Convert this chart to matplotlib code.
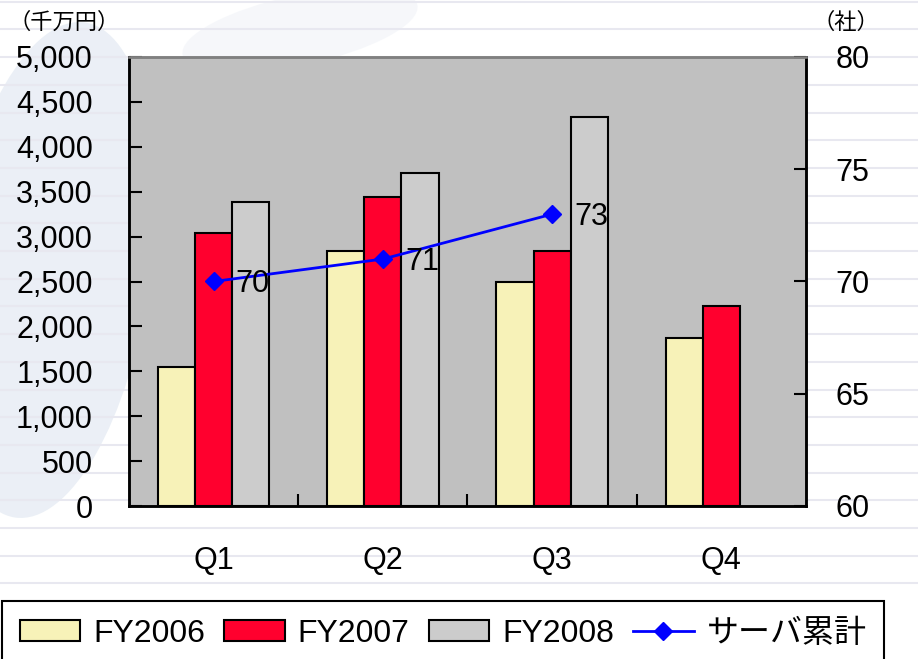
import numpy as np
import matplotlib
matplotlib.use("Agg")
import matplotlib.pyplot as plt
from matplotlib.patches import Patch, Ellipse
from matplotlib.lines import Line2D
from matplotlib.ticker import FuncFormatter, MultipleLocator, FixedLocator

plt.rcParams['font.family'] = ['Liberation Sans', 'Noto Sans CJK JP', 'DejaVu Sans']

quarters = ['Q1', 'Q2', 'Q3', 'Q4']
fy2006 = [1550, 2840, 2500, 1875]
fy2007 = [3035, 3440, 2845, 2230]
fy2008 = [3385, 3710, 4335, np.nan]
servers = [70, 71, 73]
series_names = ['FY2006', 'FY2007', 'FY2008', 'サーバ累計']

c06, c07, c08 = '#F7F2B8', '#FF002E', '#CCCCCC'
blue = '#0000FF'

fig = plt.figure(figsize=(9.18, 6.59), dpi=100)
fig.patch.set_facecolor('white')

# faint decorative background (lines + blue swoosh)
bg = fig.add_axes([0, 0, 1, 1], zorder=-5)
bg.set_xlim(0, 918)
bg.set_ylim(659, 0)
bg.axis('off')
bg.add_patch(Ellipse((50, 270), 200, 500, angle=8, color='#E6ECF4', alpha=0.8, lw=0))
bg.add_patch(Ellipse((300, 30), 240, 70, angle=-12, color='#F0F3F8', alpha=0.6, lw=0))
for k in range(22):
    bg.axhline(1.7 + 27.7 * k, color='#E8E8F0', lw=1.5)

ax = fig.add_axes([129 / 918, 1 - 506 / 659, 677 / 918, 449 / 659])
ax.set_facecolor('#C0C0C0')

x = np.arange(len(quarters))
w = 0.22
ax.bar(x - w, fy2006, w, color=c06, edgecolor='black', lw=1.5)
ax.bar(x, fy2007, w, color=c07, edgecolor='black', lw=1.5)
ax.bar(x + w, fy2008, w, color=c08, edgecolor='black', lw=1.5)

ax.set_xlim(-0.5, 3.5)
ax.set_ylim(0, 5000)
ax.yaxis.set_major_locator(MultipleLocator(500))
ax.yaxis.set_major_formatter(FuncFormatter(lambda v, p: f'{int(v):,}'))
ax.tick_params(axis='y', direction='in', length=9, width=1.5, labelsize=22, pad=26)
ax.set_xticks(x)
ax.set_xticklabels(quarters)
ax.xaxis.set_minor_locator(FixedLocator([0.5, 1.5, 2.5]))
ax.tick_params(axis='x', which='major', length=0, labelsize=22, pad=29)
ax.tick_params(axis='x', which='minor', direction='in', length=9, width=1.5)

ax2 = ax.twinx()
ax2.plot(x[:len(servers)], servers, color=blue, lw=2, marker='D', markersize=9)
for xi, v in zip(x, servers):
    ax2.annotate(str(v), (xi, v), xytext=(16, -2), textcoords='offset points',
                 va='center', ha='left', fontsize=22)
ax2.set_ylim(60, 80)
ax2.yaxis.set_major_locator(MultipleLocator(5))
ax2.tick_params(axis='y', direction='in', length=9, width=1.5, labelsize=22, pad=21)

for a in (ax, ax2):
    for s in ('left', 'right', 'bottom'):
        a.spines[s].set_color('black')
        a.spines[s].set_linewidth(1.8)
    a.spines['top'].set_color('#808080')
    a.spines['top'].set_linewidth(1.8)

fig.text(8 / 918, 1 - 22 / 659, '（千万円）', fontsize=16, va='center', ha='left',
         family=['Noto Sans CJK JP', 'DejaVu Sans'])
fig.text(846 / 918, 1 - 22 / 659, '（社）', fontsize=16, va='center', ha='center',
         family=['Noto Sans CJK JP', 'DejaVu Sans'])

handles = [
    Patch(facecolor=c06, edgecolor='black', lw=1.5),
    Patch(facecolor=c07, edgecolor='black', lw=1.5),
    Patch(facecolor=c08, edgecolor='black', lw=1.5),
    Line2D([], [], color=blue, lw=2, marker='D', markersize=9),
]
leg = fig.legend(handles, series_names, loc='upper left', bbox_to_anchor=(2 / 918, 1 - 601 / 659),
                 ncol=4, fontsize=23, frameon=True, fancybox=False, framealpha=1,
                 edgecolor='black', handlelength=1.9, handleheight=0.65,
                 handletextpad=0.4, columnspacing=0.6, borderpad=0.55, borderaxespad=0)
leg.get_frame().set_linewidth(1.5)

fig.savefig('out.png', dpi=100)
